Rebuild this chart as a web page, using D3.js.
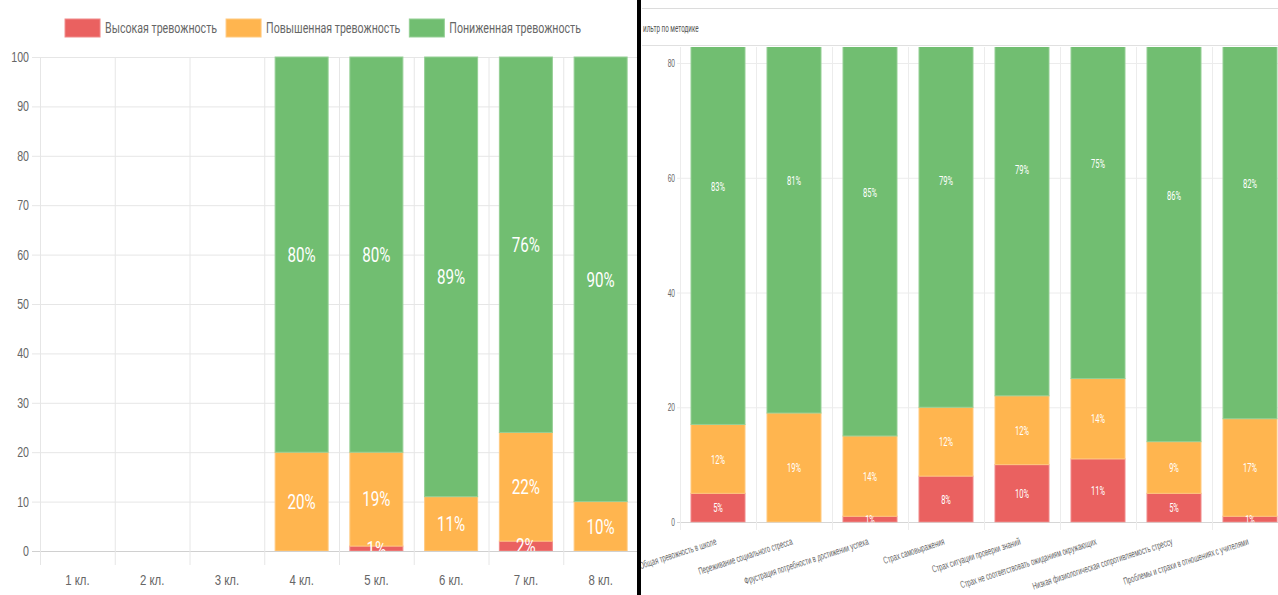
<!DOCTYPE html>
<html>
<head>
<meta charset="utf-8">
<script src="https://cdn.jsdelivr.net/npm/d3@7"></script>
<style>
  body { margin: 0; background: #fff; }
  svg { display: block; font-family: Roboto, "Noto Sans", sans-serif; }
</style>
</head>
<body>
<script>
// левая диаграмма: тревожность по классам
const grades = ["1 кл.", "2 кл.", "3 кл.", "4 кл.", "5 кл.", "6 кл.", "7 кл.", "8 кл."];
const gradeHigh = [0, 0, 0, 0, 1, 0, 2, 0];
const gradeElevated = [0, 0, 0, 20, 19, 11, 22, 10];
const gradeLow = [0, 0, 0, 80, 80, 89, 76, 90];
const leftTicks = [0, 10, 20, 30, 40, 50, 60, 70, 80, 90, 100];

// правая диаграмма: фильтр по методике
const scales = [
  "Общая тревожность в школе",
  "Переживание социального стресса",
  "Фрустрация потребности в достижении успеха",
  "Страх самовыражения",
  "Страх ситуации проверки знаний",
  "Страх не соответствовать ожиданиям окружающих",
  "Низкая физиологическая сопротивляемость стрессу",
  "Проблемы и страхи в отношениях с учителями"
];
const scaleHigh = [5, 0, 1, 8, 10, 11, 5, 1];
const scaleElevated = [12, 19, 14, 12, 12, 14, 9, 17];
const scaleLow = [83, 81, 85, 79, 79, 75, 86, 82];
const rightTicks = [0, 20, 40, 60, 80];

const seriesNames = ["Высокая тревожность", "Повышенная тревожность", "Пониженная тревожность"];
const keys = ["high", "elevated", "low"];
const colors = { high: "#ea6160", elevated: "#ffb54f", low: "#71be71" };
const strokes = { high: "#f08a89", elevated: "#ffc97f", low: "#95cf95" };

const svg = d3.select("body").append("svg")
  .attr("width", 1278)
  .attr("height", 595);

const defs = svg.append("defs");

function squeezeAxisText(g, k) {
  g.selectAll("text").each(function () {
    const t = d3.select(this);
    t.attr("x", (+t.attr("x") || 0) / k).attr("transform", `scale(${k},1)`);
  });
}

function drawStack(g, cats, high, elevated, low, x, y, barW, clipId, fontSize, k) {
  const rows = cats.map((c, i) => ({ cat: c, high: high[i], elevated: elevated[i], low: low[i] }));
  const stacked = d3.stack().keys(keys)(rows);

  const bars = g.append("g").attr("clip-path", `url(#${clipId})`);
  stacked.forEach(layer => {
    bars.selectAll(null)
      .data(layer.filter(d => d[1] - d[0] > 0))
      .enter()
      .append("rect")
      .attr("x", d => x(d.data.cat) + (x.bandwidth() - barW) / 2 + 0.5)
      .attr("y", d => y(d[1]))
      .attr("width", barW - 1)
      .attr("height", d => y(d[0]) - y(d[1]))
      .attr("fill", colors[layer.key])
      .attr("stroke", strokes[layer.key])
      .attr("stroke-width", 1);
  });

  // подписи процентов
  stacked.forEach(layer => {
    bars.selectAll(null)
      .data(layer.filter(d => d[1] - d[0] > 0))
      .enter()
      .append("text")
      .attr("transform", d => `translate(${x(d.data.cat) + x.bandwidth() / 2},${y((d[0] + d[1]) / 2)}) scale(${k},1)`)
      .attr("text-anchor", "middle")
      .attr("dy", "0.36em")
      .attr("fill", "#fff")
      .style("font-size", fontSize + "px")
      .text(d => d.data[layer.key] + "%");
  });
}

// ---------- левая диаграмма ----------
const L = { left: 40, right: 638, top: 57, bottom: 551 };
const xL = d3.scaleBand().domain(grades).range([L.left, L.right]);
const yL = d3.scaleLinear().domain([0, 100]).range([L.bottom, L.top]);
const kL = 0.76;

defs.append("clipPath").attr("id", "clipL")
  .append("rect").attr("x", L.left).attr("y", L.top - 1).attr("width", L.right - L.left).attr("height", L.bottom - L.top + 1);

const left = svg.append("g");

left.selectAll(".hgrid")
  .data(leftTicks)
  .enter()
  .append("line")
  .attr("x1", 32).attr("x2", L.right)
  .attr("y1", d => yL(d) + 0.5).attr("y2", d => yL(d) + 0.5)
  .attr("stroke", d => d === 0 ? "#d0d0d0" : "#e6e6e6");

left.selectAll(".vgrid")
  .data(d3.range(grades.length + 1))
  .enter()
  .append("line")
  .attr("x1", i => L.left + i * xL.step() + 0.5).attr("x2", i => L.left + i * xL.step() + 0.5)
  .attr("y1", L.top).attr("y2", 565)
  .attr("stroke", "#e6e6e6");

drawStack(left, grades, gradeHigh, gradeElevated, gradeLow, xL, yL, 54, "clipL", 20, kL);

const yAxisL = left.append("g")
  .attr("transform", `translate(${L.left},0)`)
  .call(d3.axisLeft(yL).tickValues(leftTicks).tickSize(0).tickPadding(11));
yAxisL.select(".domain").remove();
yAxisL.selectAll("text").style("font-size", "14px").attr("fill", "#666");
squeezeAxisText(yAxisL, kL);

const xAxisL = left.append("g")
  .attr("transform", `translate(0,${L.bottom})`)
  .call(d3.axisBottom(xL).tickSize(0));
xAxisL.select(".domain").remove();
xAxisL.selectAll("text").attr("y", 29).attr("dy", "0.35em").style("font-size", "15px").attr("fill", "#666");
squeezeAxisText(xAxisL, kL);

// легенда
const legend = left.append("g");
let lx = 0;
seriesNames.forEach((name, i) => {
  const item = legend.append("g").attr("transform", `translate(${lx},0)`);
  item.append("rect")
    .attr("x", 0).attr("y", 19).attr("width", 35).attr("height", 18)
    .attr("fill", colors[keys[i]])
    .attr("stroke", strokes[keys[i]]);
  const t = item.append("text")
    .attr("transform", `translate(40,28) scale(${kL},1)`)
    .attr("dy", "0.35em")
    .attr("fill", "#666")
    .style("font-size", "14px")
    .text(name);
  lx += 40 + t.node().getComputedTextLength() * kL + 9;
});
legend.attr("transform", `translate(${323 - (lx - 9) / 2},0)`);

// ---------- правая диаграмма ----------
const R = { left: 680, top: 47, bottom: 522, step: 76 };
const xR = d3.scaleBand().domain(scales).range([R.left, R.left + R.step * scales.length]);
const yR = d3.scaleLinear().domain([0, 80]).range([R.bottom, 63]);
const kR = 0.6;

defs.append("clipPath").attr("id", "clipR")
  .append("rect").attr("x", 642).attr("y", R.top).attr("width", 700).attr("height", R.bottom - R.top + 0.5);

const right = svg.append("g");

right.append("line")
  .attr("x1", 642).attr("x2", 1278).attr("y1", 8.5).attr("y2", 8.5)
  .attr("stroke", "#dcdcdc");
right.append("line")
  .attr("x1", 642).attr("x2", 1278).attr("y1", 45.5).attr("y2", 45.5)
  .attr("stroke", "#e0e0e0");

right.append("text")
  .attr("transform", `translate(643,28) scale(${kR},1)`)
  .attr("dy", "0.35em")
  .attr("fill", "#555")
  .style("font-size", "10.5px")
  .text("ильтр по методике");

right.selectAll(".hgrid")
  .data(rightTicks)
  .enter()
  .append("line")
  .attr("x1", 677).attr("x2", 1278)
  .attr("y1", d => yR(d) + 0.5).attr("y2", d => yR(d) + 0.5)
  .attr("stroke", d => d === 0 ? "#d6d6d6" : "#ececec");

right.selectAll(".vgrid")
  .data(d3.range(scales.length + 1))
  .enter()
  .append("line")
  .attr("x1", i => R.left + i * R.step + 0.5).attr("x2", i => R.left + i * R.step + 0.5)
  .attr("y1", R.top).attr("y2", 530)
  .attr("stroke", "#ececec");

drawStack(right, scales, scaleHigh, scaleElevated, scaleLow, xR, yR, 55, "clipR", 13, 0.58);

const yAxisR = right.append("g")
  .attr("transform", `translate(${R.left},0)`)
  .call(d3.axisLeft(yR).tickValues(rightTicks).tickSize(0).tickPadding(5));
yAxisR.select(".domain").remove();
yAxisR.selectAll("text").style("font-size", "11px").attr("fill", "#666");
squeezeAxisText(yAxisR, kR);

const xAxisR = right.append("g")
  .attr("transform", `translate(0,${R.bottom})`)
  .call(d3.axisBottom(xR).tickSize(0));
xAxisR.select(".domain").remove();
xAxisR.selectAll("text")
  .attr("x", 0).attr("y", 0)
  .attr("dy", "0.35em")
  .attr("text-anchor", "end")
  .attr("transform", `translate(-2,19) rotate(-18) scale(${kR},1)`)
  .style("font-size", "10px")
  .attr("fill", "#666");

// чёрный разделитель между скриншотами
svg.append("rect")
  .attr("x", 637).attr("y", 0).attr("width", 4).attr("height", 595)
  .attr("fill", "#000");
</script>
</body>
</html>
